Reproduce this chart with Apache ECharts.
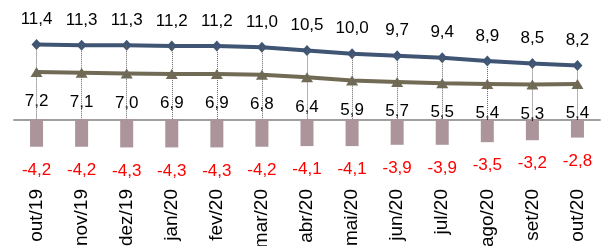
<!DOCTYPE html>
<html>
<head>
<meta charset="utf-8">
<script src="https://cdn.jsdelivr.net/npm/echarts@6/dist/echarts.min.js"></script>
<style>
  html, body { margin: 0; padding: 0; background: #fff; }
  #chart { width: 606px; height: 246px; }
</style>
</head>
<body>
<div id="chart"></div>
<script>
const months = ['out/19', 'nov/19', 'dez/19', 'jan/20', 'fev/20', 'mar/20', 'abr/20', 'mai/20', 'jun/20', 'jul/20', 'ago/20', 'set/20', 'out/20']
const topLine = [11.4, 11.3, 11.3, 11.2, 11.2, 11.0, 10.5, 10.0, 9.7, 9.4, 8.9, 8.5, 8.2]
const lowLine = [7.2, 7.1, 7.0, 6.9, 6.9, 6.8, 6.4, 5.9, 5.7, 5.5, 5.4, 5.3, 5.4]
const gap = [-4.2, -4.2, -4.3, -4.3, -4.3, -4.2, -4.1, -4.1, -3.9, -3.9, -3.5, -3.2, -2.8]

const fmt = p => p.value.toFixed(1).replace('.', ',')
const font = 'Liberation Sans, Arial, sans-serif'

const chart = echarts.init(document.getElementById('chart'))
chart.setOption({
  animation: false,
  grid: { left: 14, right: 6, top: 21, height: 131, outerBoundsMode: 'none', containLabel: false },
  xAxis: {
    type: 'category', data: months,
    axisLine: { onZero: true, lineStyle: { color: '#a0a0a0', width: 2 } },
    axisTick: { length: 5, lineStyle: { color: '#a0a0a0', width: 1 } },
    axisLabel: { rotate: 90, margin: 37, fontSize: 19, color: '#000', fontFamily: font }
  },
  yAxis: { type: 'value', min: -5, max: 15, show: false, splitLine: { show: false } },
  series: [
    {
      type: 'bar', data: gap, barWidth: 13, z: 1,
      itemStyle: { color: '#ab959a' },
      label: { show: true, position: 'bottom', distance: 15, formatter: fmt, color: '#ff0000', fontSize: 17, fontFamily: font }
    },
    {
      type: 'line', data: topLine, z: 3,
      symbol: 'diamond', symbolSize: [10, 11],
      lineStyle: { color: '#3f5573', width: 4 },
      itemStyle: { color: '#3f5573' },
      label: { show: true, position: 'top', distance: 11, formatter: fmt, color: '#000', fontSize: 17, fontFamily: font },
      markLine: {
        silent: true, symbol: 'none', label: { show: false },
        lineStyle: { type: 'dotted', color: '#666', width: 1 },
        data: topLine.map((v, i) => [{ coord: [i, v] }, { coord: [i, 0] }])
      }
    },
    {
      type: 'line', data: lowLine, z: 2,
      symbol: 'triangle', symbolSize: [12, 10],
      lineStyle: { color: '#716a55', width: 4 },
      itemStyle: { color: '#716a55' },
      label: { show: true, position: 'bottom', distance: 16, formatter: fmt, color: '#000', fontSize: 17, fontFamily: font }
    }
  ]
})
</script>
</body>
</html>
